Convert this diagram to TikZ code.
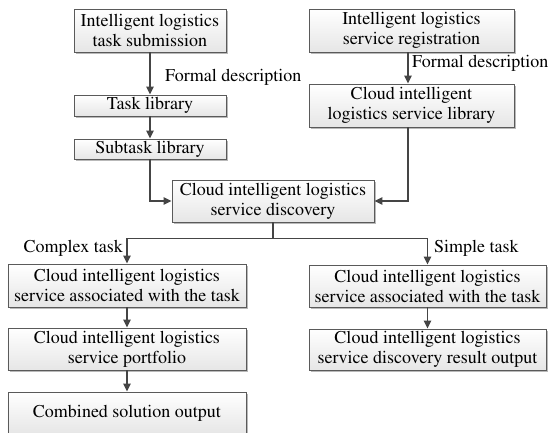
\documentclass[tikz,border=0pt]{standalone}
\usepackage[T1]{fontenc}
\usepackage{mathptmx}
\usetikzlibrary{arrows.meta,shadows,calc}
\definecolor{edgegray}{HTML}{5A5A5A}
\definecolor{linegray}{HTML}{454545}
\definecolor{fillgray}{HTML}{E6E6E6}
\tikzset{
  flowbox/.style={draw=edgegray, line width=0.9bp, top color=white, bottom color=fillgray,
    drop shadow={shadow xshift=2bp, shadow yshift=-2bp, fill=gray!55, opacity=1},
    inner sep=0pt, align=center, font=\fontsize{18bp}{20bp}\selectfont},
  conn/.style={draw=linegray, line width=1.4bp},
  arr/.style={conn, -{Triangle[length=8bp,width=7.5bp]}},
  lbl/.style={inner sep=0pt, font=\fontsize{18bp}{20bp}\selectfont}
}
\begin{document}
\begin{tikzpicture}[x=1bp,y=-1bp]
\useasboundingbox (0,0) rectangle (550,432);
\fill[white] (0,0) rectangle (550,432);

% upper left column: task side
\node[flowbox, minimum width=152bp, minimum height=43bp] (sub) at (150,30.5) {Intelligent logistics\\task submission};
\node[flowbox, minimum width=152bp, minimum height=21bp] (tlib) at (150,105.5) {Task library};
\node[flowbox, minimum width=152bp, minimum height=20bp] (slib) at (150,149) {Subtask library};

% upper right column: service side
\node[flowbox, minimum width=205bp, minimum height=43bp] (reg) at (411.5,30.5) {Intelligent logistics\\service registration};
\node[flowbox, minimum width=205bp, minimum height=43bp] (clib) at (411.5,105.5) {Cloud intelligent\\logistics service library};

% discovery
\node[flowbox, minimum width=202bp, minimum height=42bp] (disc) at (273,201) {Cloud intelligent logistics\\service discovery};

% complex task branch
\node[flowbox, minimum width=238bp, minimum height=43bp] (la) at (127,285.5) {Cloud intelligent logistics\\service associated with the task};
\node[flowbox, minimum width=238bp, minimum height=42bp] (lp) at (127,349) {Cloud intelligent logistics\\service portfolio};
\node[flowbox, minimum width=238bp, minimum height=42bp] (lc) at (127,413) {Combined solution output};

% simple task branch
\node[flowbox, minimum width=237bp, minimum height=42bp] (ra) at (427.5,286) {Cloud intelligent logistics\\service associated with the task};
\node[flowbox, minimum width=237bp, minimum height=41bp] (rr) at (427.5,349.5) {Cloud intelligent logistics\\service discovery result output};

% connectors
\draw[arr] (sub) -- (tlib);
\draw[arr] (tlib) -- (slib);
\draw[arr] (slib.south) |- (disc.west);
\draw[arr] ([xshift=-3.5bp]reg.south) -- ([xshift=-3.5bp]clib.north);
\draw[arr] ([xshift=-3.5bp]clib.south) |- (disc.east);
\coordinate (br) at ($(disc.south)+(0,16)$);
\draw[conn] (disc.south) -- (br);
\draw[arr] (br) -| (la.north);
\draw[arr] (br) -| (ra.north);
\draw[arr] (la) -- (lp);
\draw[arr] (lp) -- (lc);
\draw[arr] (ra) -- (rr);

% labels
\node[lbl, anchor=west] (fd1) at (165,77) {Formal description};
\node[lbl, anchor=west] (fd2) at (412,63) {Formal description};
\node[lbl, anchor=east] (ct) at (123,248) {Complex task};
\node[lbl, anchor=west] (st) at (434,248) {Simple task};
\end{tikzpicture}
\end{document}
